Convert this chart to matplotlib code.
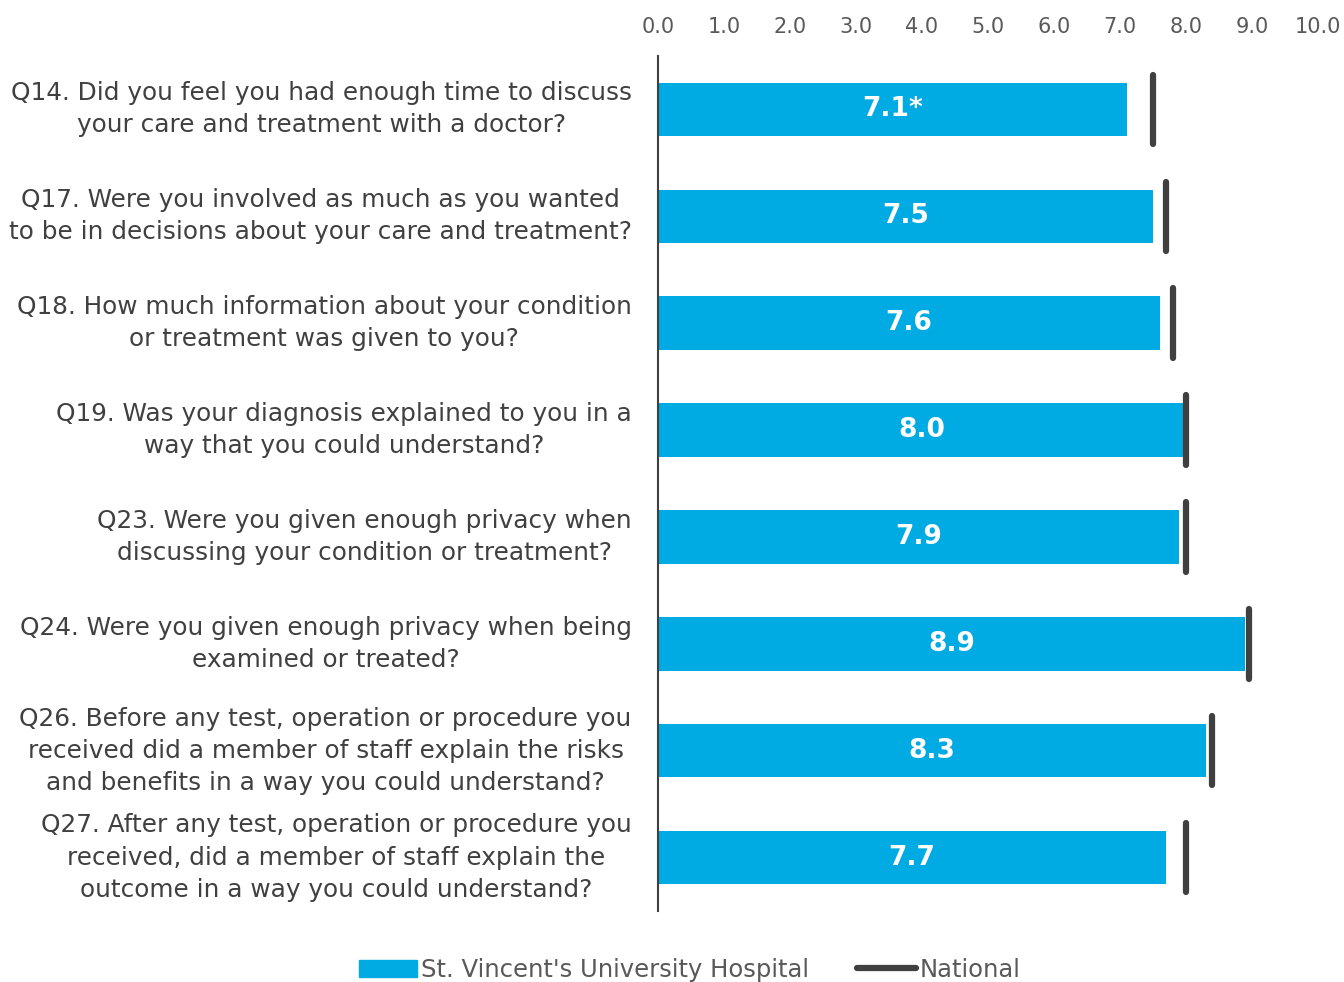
import matplotlib.pyplot as plt
from matplotlib.patches import Patch
from matplotlib.lines import Line2D
import numpy as np

questions = [
    "Q14. Did you feel you had enough time to discuss\nyour care and treatment with a doctor?",
    "Q17. Were you involved as much as you wanted\nto be in decisions about your care and treatment?",
    "Q18. How much information about your condition\nor treatment was given to you?",
    "Q19. Was your diagnosis explained to you in a\nway that you could understand?",
    "Q23. Were you given enough privacy when\ndiscussing your condition or treatment?",
    "Q24. Were you given enough privacy when being\nexamined or treated?",
    "Q26. Before any test, operation or procedure you\nreceived did a member of staff explain the risks\nand benefits in a way you could understand?",
    "Q27. After any test, operation or procedure you\nreceived, did a member of staff explain the\noutcome in a way you could understand?",
]
hospital = [7.1, 7.5, 7.6, 8.0, 7.9, 8.9, 8.3, 7.7]
hospital_labels = ["7.1*", "7.5", "7.6", "8.0", "7.9", "8.9", "8.3", "7.7"]
national = [7.5, 7.7, 7.8, 8.0, 8.0, 8.95, 8.4, 8.0]
ticks = np.arange(0, 11, 1.0)

blue = "#00ABE4"
dark = "#404040"
grey = "#595959"

plt.rcParams["font.family"] = ["DejaVu Sans"]

fig = plt.figure(figsize=(13.44, 9.82), dpi=100)
ax = fig.add_axes([0.4896, 0.0723, 0.4911, 0.8707])

y = np.arange(len(questions))
ax.barh(y, hospital, height=0.5, color=blue, zorder=2)
ax.vlines(national, y - 0.325, y + 0.325, colors=dark, linewidth=4.5,
          capstyle="round", zorder=3)

for yi, v, lab in zip(y, hospital, hospital_labels):
    ax.text(v / 2, yi, lab, ha="center", va="center", color="white",
            fontsize=19, fontweight="bold")

ax.set_xlim(0, 10)
ax.set_ylim(len(questions) - 0.5, -0.5)
ax.set_xticks(ticks)
ax.set_xticklabels([f"{t:.1f}" for t in ticks], fontsize=15, color=grey)
ax.xaxis.tick_top()
ax.tick_params(axis="x", length=0, pad=14)
ax.set_yticks(y)
ax.set_yticklabels(questions, fontsize=17.8, color=dark, ha="right", va="center",
                   multialignment="center", linespacing=1.43)
ax.tick_params(axis="y", length=0, pad=19)

for side in ["top", "right", "bottom"]:
    ax.spines[side].set_visible(False)
ax.spines["left"].set_color(dark)
ax.spines["left"].set_linewidth(1.5)

handles = [
    Patch(facecolor=blue, edgecolor=blue),
    Line2D([0], [0], color=dark, linewidth=4.5, solid_capstyle="round"),
]
fig.legend(handles, ["St. Vincent's University Hospital", "National"],
           loc="lower center", bbox_to_anchor=(0.513, -0.022), ncol=2,
           frameon=False, fontsize=17.5, labelcolor=grey, handlelength=2.4,
           handletextpad=0.15, columnspacing=2.0)

fig.savefig("out.png", dpi=100)
